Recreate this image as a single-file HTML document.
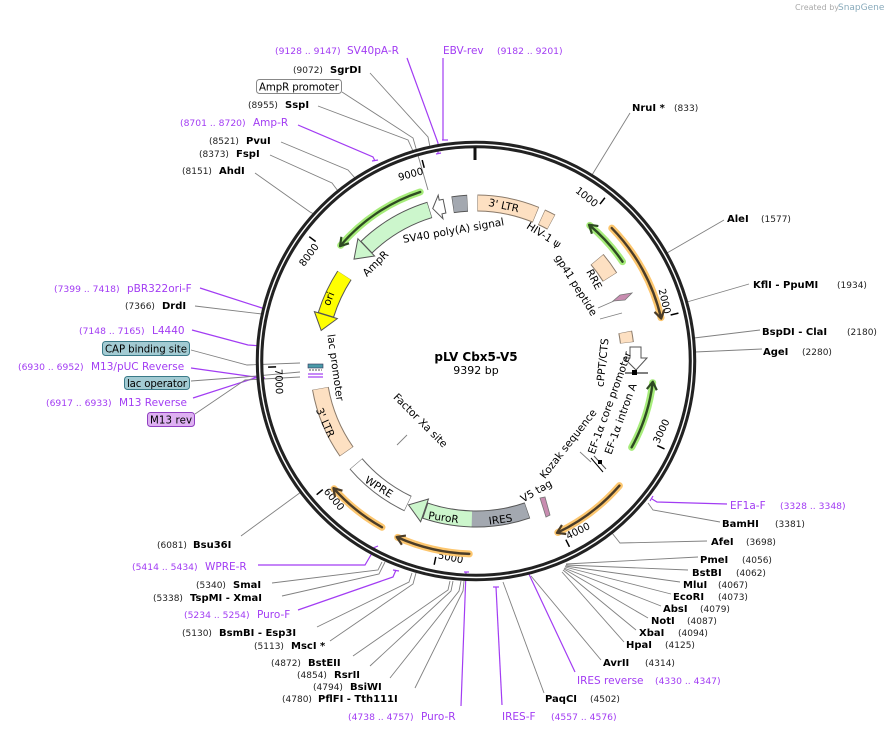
<!DOCTYPE html>
<html><head><meta charset="utf-8"><style>
html,body{margin:0;padding:0;background:#fff;}
svg{display:block;font-family:"DejaVu Sans","Liberation Sans",sans-serif;}
.e{font-weight:bold;font-size:10px;fill:#000}
.n{font-size:9px;fill:#222}
.p{font-size:10.5px;fill:#a23cf3}
.pn{font-size:9.2px;fill:#a23cf3}
.l{stroke:#808080;stroke-width:.9;fill:none}
.pl{stroke:#a23cf3;stroke-width:1.2;fill:none}
.in{font-size:10.5px;fill:#000}
.bx{font-size:10.2px;fill:#000}
.tk{font-size:10px;fill:#000}
</style></head><body>
<svg width="893" height="733" viewBox="0 0 893 733" xmlns="http://www.w3.org/2000/svg">
<rect width="893" height="733" fill="#fff"/>
<text x="795" y="10" font-size="8" fill="#aaa">Created by</text><text x="838" y="10" font-size="9" fill="#8ab">SnapGene</text>

<!-- leader lines -->
<polyline class="l" points="370,73 428,137 430,147"/>
<polyline class="l" points="342,92 413,138 428,190"/>
<polyline class="l" points="318,106 408,140 413,151"/>
<polyline class="pl" points="298,125 373,157 375,161"/><line class="pl" x1="372" y1="161" x2="378" y2="160"/>
<polyline class="pl" points="407,58 438,143 438,154"/><line class="pl" x1="436" y1="154" x2="441" y2="153"/>
<polyline class="pl" points="443,58 443,140"/><line class="pl" x1="442" y1="140" x2="448" y2="140"/>
<polyline class="l" points="281,142 348,170 355,178"/>
<polyline class="l" points="270,155 332,183 338,191"/>
<polyline class="l" points="255,173 310,212 314,214"/>
<polyline class="l" points="630,113 592,175"/>
<polyline class="l" points="724,220 667,253"/>
<polyline class="l" points="749,284 687,302"/>
<polyline class="l" points="760,330 694,338"/>
<polyline class="l" points="762,349 695,352"/>
<polyline class="pl" points="200,288 262,308 268,310"/>
<polyline class="l" points="195,306 262,314"/>
<polyline class="pl" points="192,330 248,345 262,346"/>
<polyline class="l" points="191,350 247,365 300,363"/>
<polyline class="pl" points="191,368 255,377 265,378"/>
<polyline class="l" points="191,381 245,377 300,372"/>
<polyline class="pl" points="193,398 255,378 262,376"/>
<polyline class="l" points="195,414 245,380 300,377"/>
<polyline class="l" points="241,536 301,492"/>
<polyline class="pl" points="258,565 365,565 375,548"/><line class="pl" x1="373" y1="548" x2="378" y2="546"/>
<polyline class="l" points="272,583 378,570 382,562"/>
<polyline class="l" points="282,596 379,574 385,562"/>
<polyline class="pl" points="298,610 393,577 396,570"/><line class="pl" x1="393" y1="570" x2="399" y2="571"/>
<polyline class="l" points="317,627 409,582 412,573"/>
<polyline class="l" points="330,641 413,584 416,573"/>
<polyline class="l" points="353,656 448,590 450,581"/>
<polyline class="l" points="370,666 451,591 453,581"/>
<polyline class="l" points="390,678 459,591 461,581"/>
<polyline class="l" points="415,688 463,591 464,581"/>
<polyline class="pl" points="461,706 466,572"/><line class="pl" x1="464" y1="572" x2="469" y2="572"/>
<polyline class="pl" points="502,705 496,587"/><line class="pl" x1="493" y1="587" x2="499" y2="587"/>
<polyline class="l" points="544,693 503,582"/>
<polyline class="pl" points="575,672 527,570"/><line class="pl" x1="525" y1="568" x2="526" y2="573"/>
<polyline class="l" points="601,660 531,576"/>
<polyline class="l" points="698,557 566,564"/>
<polyline class="l" points="688,570 566,565"/>
<polyline class="l" points="680,582 565,566"/>
<polyline class="l" points="671,594 565,567"/>
<polyline class="l" points="661,606 564,568"/>
<polyline class="l" points="648,618 564,569"/>
<polyline class="l" points="636,630 563,570"/>
<polyline class="l" points="624,642 562,572"/>
<polyline class="l" points="707,541 620,543 612,533"/>
<polyline class="l" points="720,522 653,510 648,503"/>
<polyline class="pl" points="727,504 657,502 652,499"/><line class="pl" x1="650" y1="501" x2="653" y2="496"/>

<!-- ring -->
<circle cx="476" cy="361" r="216.5" fill="none" stroke="#222" stroke-width="7.5"/>
<circle cx="476" cy="361" r="216.5" fill="none" stroke="#fff" stroke-width="1.4"/>
<line x1="475" y1="147" x2="475" y2="160" stroke="#111" stroke-width="3"/>

<!-- ticks -->
<g transform="rotate(38.3,476,361)"><line x1="476" y1="153" x2="476" y2="161" stroke="#000" stroke-width="1.5"/><text class="tk" x="474" y="167" text-anchor="end">1000</text></g>
<g transform="rotate(76.7,476,361)"><line x1="476" y1="153" x2="476" y2="161" stroke="#000" stroke-width="1.5"/><text class="tk" x="474" y="167" text-anchor="end">2000</text></g>
<g transform="rotate(-65,476,361)"><line x1="476" y1="561" x2="476" y2="569" stroke="#000" stroke-width="1.5"/><text class="tk" x="478" y="562">3000</text></g>
<g transform="rotate(-26.7,476,361)"><line x1="476" y1="561" x2="476" y2="569" stroke="#000" stroke-width="1.5"/><text class="tk" x="478" y="562">4000</text></g>
<g transform="rotate(11.6,476,361)"><line x1="476" y1="561" x2="476" y2="569" stroke="#000" stroke-width="1.5"/><text class="tk" x="478" y="562">5000</text></g>
<g transform="rotate(50,476,361)"><line x1="476" y1="561" x2="476" y2="569" stroke="#000" stroke-width="1.5"/><text class="tk" x="478" y="562">6000</text></g>
<g transform="rotate(88.3,476,361)"><line x1="476" y1="561" x2="476" y2="569" stroke="#000" stroke-width="1.5"/><text class="tk" x="478" y="562">7000</text></g>
<g transform="rotate(-53.3,476,361)"><line x1="476" y1="153" x2="476" y2="161" stroke="#000" stroke-width="1.5"/><text class="tk" x="474" y="167" text-anchor="end">8000</text></g>
<g transform="rotate(-15,476,361)"><line x1="476" y1="153" x2="476" y2="161" stroke="#000" stroke-width="1.5"/><text class="tk" x="474" y="167" text-anchor="end">9000</text></g>

<!-- outer ORF arcs -->
<g fill="none" stroke-linecap="round">
<circle cx="476" cy="361" r="190" stroke="#fcc66e" stroke-width="7" stroke-dasharray="103.5 9999" transform="rotate(-44.4,476,361)"/>
<circle cx="476" cy="361" r="190" stroke="#4a3c28" stroke-width="2.4" stroke-dasharray="103.5 9999" transform="rotate(-44.4,476,361)"/>
<circle cx="476" cy="361" r="190" stroke="#fcc66e" stroke-width="7" stroke-dasharray="77.9 9999" transform="rotate(41,476,361)"/>
<circle cx="476" cy="361" r="190" stroke="#4a3c28" stroke-width="2.4" stroke-dasharray="77.9 9999" transform="rotate(41,476,361)"/>
<circle cx="476" cy="361" r="193" stroke="#fcc66e" stroke-width="7" stroke-dasharray="74 9999" transform="rotate(92,476,361)"/>
<circle cx="476" cy="361" r="193" stroke="#4a3c28" stroke-width="2.4" stroke-dasharray="74 9999" transform="rotate(92,476,361)"/>
<circle cx="476" cy="361" r="191" stroke="#fcc66e" stroke-width="7" stroke-dasharray="61.7 9999" transform="rotate(119.5,476,361)"/>
<circle cx="476" cy="361" r="191" stroke="#4a3c28" stroke-width="2.4" stroke-dasharray="61.7 9999" transform="rotate(119.5,476,361)"/>
<circle cx="476" cy="361" r="177" stroke="#a6ec7a" stroke-width="7" stroke-dasharray="49 9999" transform="rotate(-50,476,361)"/>
<circle cx="476" cy="361" r="177" stroke="#2e4a22" stroke-width="2.4" stroke-dasharray="49 9999" transform="rotate(-50,476,361)"/>
<circle cx="476" cy="361" r="178" stroke="#a6ec7a" stroke-width="7" stroke-dasharray="68.4 9999" transform="rotate(7,476,361)"/>
<circle cx="476" cy="361" r="178" stroke="#2e4a22" stroke-width="2.4" stroke-dasharray="68.4 9999" transform="rotate(7,476,361)"/>
<circle cx="476" cy="361" r="178" stroke="#a6ec7a" stroke-width="7" stroke-dasharray="97 9999" transform="rotate(220.5,476,361)"/>
<circle cx="476" cy="361" r="178" stroke="#2e4a22" stroke-width="2.4" stroke-dasharray="97 9999" transform="rotate(220.5,476,361)"/>
</g>
<g fill="none" stroke-width="2.2" stroke-linejoin="round">
<g transform="rotate(76.8,476,361)"><polyline points="469,166 477,171 469,176" stroke="#4a3c28"/></g>
<g transform="rotate(154.5,476,361)"><polyline points="469,166 477,171 469,176" stroke="#4a3c28"/></g>
<g transform="rotate(204,476,361)"><polyline points="469,163 477,168 469,173" stroke="#4a3c28"/></g>
<g transform="rotate(228,476,361)"><polyline points="469,165 477,170 469,175" stroke="#4a3c28"/></g>
<g transform="rotate(40,476,361)"><polyline points="483,179 475,184 483,189" stroke="#2e4a22"/></g>
<g transform="rotate(97,476,361)"><polyline points="483,178 475,183 483,188" stroke="#2e4a22"/></g>
<g transform="rotate(310.5,476,361)"><polyline points="483,178 475,183 483,188" stroke="#2e4a22"/></g>
</g>

<!-- inner features -->
<g fill="none">
<circle cx="476" cy="361" r="158" stroke="#8a7a6a" stroke-width="17" stroke-dasharray="60.1 9999" transform="rotate(-89.5,476,361)"/>
<circle cx="476" cy="361" r="158" stroke="#fde0c2" stroke-width="15" stroke-dasharray="59 9999" transform="rotate(-89.3,476,361)"/>
<circle cx="476" cy="361" r="158" stroke="#8a7a6a" stroke-width="17" stroke-dasharray="11 9999" transform="rotate(-65.5,476,361)"/>
<circle cx="476" cy="361" r="158" stroke="#fde0c2" stroke-width="15" stroke-dasharray="10 9999" transform="rotate(-65.3,476,361)"/>
<circle cx="476" cy="361" r="158" stroke="#555" stroke-width="17" stroke-dasharray="15 9999" transform="rotate(261.5,476,361)"/>
<circle cx="476" cy="361" r="158" stroke="#a3a8b0" stroke-width="15" stroke-dasharray="14 9999" transform="rotate(261.7,476,361)"/>
<circle cx="476" cy="361" r="158" stroke="#555" stroke-width="17" stroke-dasharray="74.4 9999" transform="rotate(226,476,361)"/>
<circle cx="476" cy="361" r="158" stroke="#ccf6cc" stroke-width="15" stroke-dasharray="73 9999" transform="rotate(226.3,476,361)"/>
<circle cx="476" cy="361" r="157" stroke="#555" stroke-width="17" stroke-dasharray="44 9999" transform="rotate(197,476,361)"/>
<circle cx="476" cy="361" r="157" stroke="#ffff00" stroke-width="15" stroke-dasharray="43 9999" transform="rotate(197.3,476,361)"/>
<circle cx="476" cy="361" r="158" stroke="#8a7a6a" stroke-width="17" stroke-dasharray="69 9999" transform="rotate(145,476,361)"/>
<circle cx="476" cy="361" r="158" stroke="#fde0c2" stroke-width="15" stroke-dasharray="68 9999" transform="rotate(145.2,476,361)"/>
<circle cx="476" cy="361" r="158" stroke="#666" stroke-width="17" stroke-dasharray="66 9999" transform="rotate(115.5,476,361)"/>
<circle cx="476" cy="361" r="158" stroke="#fff" stroke-width="15" stroke-dasharray="65 9999" transform="rotate(115.7,476,361)"/>
<circle cx="476" cy="361" r="158" stroke="#555" stroke-width="17" stroke-dasharray="58 9999" transform="rotate(71,476,361)"/>
<circle cx="476" cy="361" r="158" stroke="#a3a8b0" stroke-width="15" stroke-dasharray="57 9999" transform="rotate(71.2,476,361)"/>
<circle cx="476" cy="361" r="158" stroke="#555" stroke-width="17" stroke-dasharray="47 9999" transform="rotate(92,476,361)"/>
<circle cx="476" cy="361" r="158" stroke="#ccf6cc" stroke-width="15" stroke-dasharray="47 9999" transform="rotate(91.5,476,361)"/>
<circle cx="476" cy="361" r="158" stroke="#8a7a6a" stroke-width="17" stroke-dasharray="22 9999" transform="rotate(-40,476,361)"/>
<circle cx="476" cy="361" r="158" stroke="#fde0c2" stroke-width="15" stroke-dasharray="21 9999" transform="rotate(-39.8,476,361)"/>
<circle cx="476" cy="361" r="152" stroke="#8a7a6a" stroke-width="14" stroke-dasharray="11 9999" transform="rotate(-11,476,361)"/>
<circle cx="476" cy="361" r="152" stroke="#fde0c2" stroke-width="12" stroke-dasharray="10 9999" transform="rotate(-10.8,476,361)"/>
</g>
<g stroke="#555" stroke-width="1">
<g transform="rotate(316,476,361)"><polygon points="476,191 476,215 459,203" fill="#ccf6cc"/></g>
<g transform="rotate(287,476,361)"><polygon points="476,192 476,216 460,204" fill="#ffff00"/></g>
<g transform="rotate(199,476,361)"><polygon points="476,191 476,215 493,203" fill="#ccf6cc"/></g>
<g transform="rotate(348.5,476,361)"><polygon points="476,196 476,210 472,210 472,215 464,203 472,191 472,196" fill="#fff"/></g>
</g>
<polygon points="630,347 641,347 641,358 647,358 636,370 624,358 630,358" fill="#fff" stroke="#555" stroke-width="1"/>
<line x1="625" y1="373" x2="648" y2="373" stroke="#000" stroke-width="1"/><rect x="632" y="370" width="5" height="5" fill="#000"/>
<line x1="600" y1="319" x2="622" y2="313" class="l"/>
<polygon points="613,301 620,295 632,293 625,300" fill="#c88cb0" stroke="#777" stroke-width=".8"/>
<line x1="598" y1="308" x2="614" y2="301" class="l"/>
<polygon points="540,498 545,497 550,515 546,517" fill="#c88cb0" stroke="#777" stroke-width=".8"/>
<line x1="591" y1="458" x2="603" y2="472" stroke="#000" stroke-width="1"/><line x1="594" y1="456" x2="606" y2="469" stroke="#555" stroke-width="1"/><rect x="598" y="460" width="4" height="4" fill="#000"/>
<line x1="580" y1="452" x2="591" y2="462" class="l"/>
<rect x="308" y="364" width="15" height="4" fill="#4a9aa8" stroke="#335" stroke-width=".6"/>
<line x1="309" y1="370" x2="322" y2="370" stroke="#555" stroke-width="1" stroke-dasharray="2 1"/>
<line x1="308" y1="374" x2="323" y2="374" stroke="#a23cf3" stroke-width="1.2"/>
<line x1="308" y1="377" x2="323" y2="377" stroke="#a23cf3" stroke-width="1.2"/>
<line x1="397" y1="445" x2="407" y2="435" class="l"/>

<!-- inner labels -->
<text class="in" transform="translate(503,209) rotate(12)" text-anchor="middle">3' LTR</text>
<text class="in" transform="translate(454,234) rotate(-10)" text-anchor="middle">SV40 poly(A) signal</text>
<text class="in" transform="translate(542,238) rotate(32)" text-anchor="middle">HIV-1 ψ</text>
<text class="in" transform="translate(591,281) rotate(62)" text-anchor="middle">RRE</text>
<text class="in" transform="translate(573,287) rotate(58)" text-anchor="middle">gp41 peptide</text>
<text class="in" transform="translate(378,266) rotate(-45)" text-anchor="middle">AmpR</text>
<text class="in" transform="translate(332,300) rotate(-68)" text-anchor="middle">ori</text>
<text class="in" transform="translate(332,368) rotate(82)" text-anchor="middle">lac promoter</text>
<text class="in" transform="translate(322,424) rotate(66)" text-anchor="middle">3' LTR</text>
<text class="in" transform="translate(377,490) rotate(32)" text-anchor="middle">WPRE</text>
<text class="in" transform="translate(443,521) rotate(8)" text-anchor="middle">PuroR</text>
<text class="in" transform="translate(501,523) rotate(-8)" text-anchor="middle">IRES</text>
<text class="in" transform="translate(538,494) rotate(-30)" text-anchor="middle">V5 tag</text>
<text class="in" transform="translate(571,446) rotate(-52)" text-anchor="middle">Kozak sequence</text>
<text class="in" transform="translate(613,404) rotate(-70)" text-anchor="middle">EF-1α core promoter</text>
<text class="in" transform="translate(624,420) rotate(-70)" text-anchor="middle">EF-1α intron A</text>
<text class="in" transform="translate(606,363) rotate(-84)" text-anchor="middle">cPPT/CTS</text>
<text class="in" transform="translate(418,423) rotate(45)" text-anchor="middle">Factor Xa site</text>
<text x="476" y="361" text-anchor="middle" font-weight="bold" font-size="12">pLV Cbx5-V5</text>
<text x="476" y="374" text-anchor="middle" font-size="11">9392 bp</text>

<!-- outer labels -->
<text class="pn" x="275" y="54">(9128 .. 9147)</text><text class="p" x="347" y="54">SV40pA-R</text>
<text class="p" x="443" y="54">EBV-rev</text><text class="pn" x="497" y="54">(9182 .. 9201)</text>
<text class="n" x="293" y="73">(9072)</text><text class="e" x="330" y="73">SgrDI</text>
<rect x="256.5" y="79.5" width="85" height="14" rx="3" fill="#fff" stroke="#888"/><text class="bx" x="259" y="90.5" textLength="80">AmpR promoter</text>
<text class="n" x="248" y="108">(8955)</text><text class="e" x="285" y="108">SspI</text>
<text class="pn" x="180" y="126">(8701 .. 8720)</text><text class="p" x="253" y="126">Amp-R</text>
<text class="n" x="209" y="144">(8521)</text><text class="e" x="246" y="144">PvuI</text>
<text class="n" x="199" y="157">(8373)</text><text class="e" x="236" y="157">FspI</text>
<text class="n" x="182" y="174">(8151)</text><text class="e" x="219" y="174">AhdI</text>
<text class="e" x="632" y="111">NruI *</text><text class="n" x="674" y="111">(833)</text>
<text class="e" x="727" y="222">AleI</text><text class="n" x="761" y="222">(1577)</text>
<text class="e" x="753" y="288">KflI  - PpuMI</text><text class="n" x="837" y="288">(1934)</text>
<text class="e" x="762" y="335">BspDI  - ClaI</text><text class="n" x="847" y="335">(2180)</text>
<text class="e" x="763" y="355">AgeI</text><text class="n" x="802" y="355">(2280)</text>
<text class="pn" x="54" y="292">(7399 .. 7418)</text><text class="p" x="127" y="292">pBR322ori-F</text>
<text class="n" x="125" y="309">(7366)</text><text class="e" x="162" y="309">DrdI</text>
<text class="pn" x="79" y="334">(7148 .. 7165)</text><text class="p" x="152" y="334">L4440</text>
<rect x="102.5" y="341.5" width="87" height="14" rx="3" fill="#a3cbd3" stroke="#3a7a88"/><text class="bx" x="105" y="352.5" textLength="82">CAP binding site</text>
<text class="pn" x="18" y="370">(6930 .. 6952)</text><text class="p" x="91" y="370">M13/pUC Reverse</text>
<rect x="124.5" y="376.5" width="65" height="13" rx="3" fill="#a3cbd3" stroke="#3a7a88"/><text class="bx" x="127" y="387" textLength="60">lac operator</text>
<text class="pn" x="46" y="406">(6917 .. 6933)</text><text class="p" x="119" y="406">M13 Reverse</text>
<rect x="147.5" y="412.5" width="47" height="14" rx="3" fill="#deb0f2" stroke="#9040c0"/><text class="bx" x="150" y="423.5" textLength="42">M13 rev</text>
<text class="p" x="730" y="509">EF1a-F</text><text class="pn" x="780" y="509">(3328 .. 3348)</text>
<text class="e" x="722" y="527">BamHI</text><text class="n" x="775" y="527">(3381)</text>
<text class="e" x="711" y="545">AfeI</text><text class="n" x="746" y="545">(3698)</text>
<text class="e" x="700" y="563">PmeI</text><text class="n" x="742" y="563">(4056)</text>
<text class="e" x="692" y="576">BstBI</text><text class="n" x="736" y="576">(4062)</text>
<text class="e" x="683" y="588">MluI</text><text class="n" x="718" y="588">(4067)</text>
<text class="e" x="673" y="600">EcoRI</text><text class="n" x="718" y="600">(4073)</text>
<text class="e" x="663" y="612">AbsI</text><text class="n" x="700" y="612">(4079)</text>
<text class="e" x="651" y="624">NotI</text><text class="n" x="687" y="624">(4087)</text>
<text class="e" x="639" y="636">XbaI</text><text class="n" x="678" y="636">(4094)</text>
<text class="e" x="626" y="648">HpaI</text><text class="n" x="665" y="648">(4125)</text>
<text class="e" x="603" y="666">AvrII</text><text class="n" x="645" y="666">(4314)</text>
<text class="p" x="577" y="684">IRES reverse</text><text class="pn" x="655" y="684">(4330 .. 4347)</text>
<text class="e" x="545" y="702">PaqCI</text><text class="n" x="590" y="702">(4502)</text>
<text class="p" x="502" y="720">IRES-F</text><text class="pn" x="551" y="720">(4557 .. 4576)</text>
<text class="n" x="157" y="548">(6081)</text><text class="e" x="193" y="548">Bsu36I</text>
<text class="pn" x="132" y="570">(5414 .. 5434)</text><text class="p" x="205" y="570">WPRE-R</text>
<text class="n" x="196" y="588">(5340)</text><text class="e" x="233" y="588">SmaI</text>
<text class="n" x="153" y="601">(5338)</text><text class="e" x="190" y="601">TspMI  - XmaI</text>
<text class="pn" x="184" y="618">(5234 .. 5254)</text><text class="p" x="257" y="618">Puro-F</text>
<text class="n" x="182" y="636">(5130)</text><text class="e" x="219" y="636">BsmBI  - Esp3I</text>
<text class="n" x="254" y="649">(5113)</text><text class="e" x="291" y="649">MscI *</text>
<text class="n" x="271" y="666">(4872)</text><text class="e" x="308" y="666">BstEII</text>
<text class="n" x="297" y="678">(4854)</text><text class="e" x="334" y="678">RsrII</text>
<text class="n" x="313" y="690">(4794)</text><text class="e" x="350" y="690">BsiWI</text>
<text class="n" x="282" y="702">(4780)</text><text class="e" x="318" y="702">PflFI  - Tth111I</text>
<text class="pn" x="348" y="720">(4738 .. 4757)</text><text class="p" x="421" y="720">Puro-R</text>
</svg>
</body></html>
